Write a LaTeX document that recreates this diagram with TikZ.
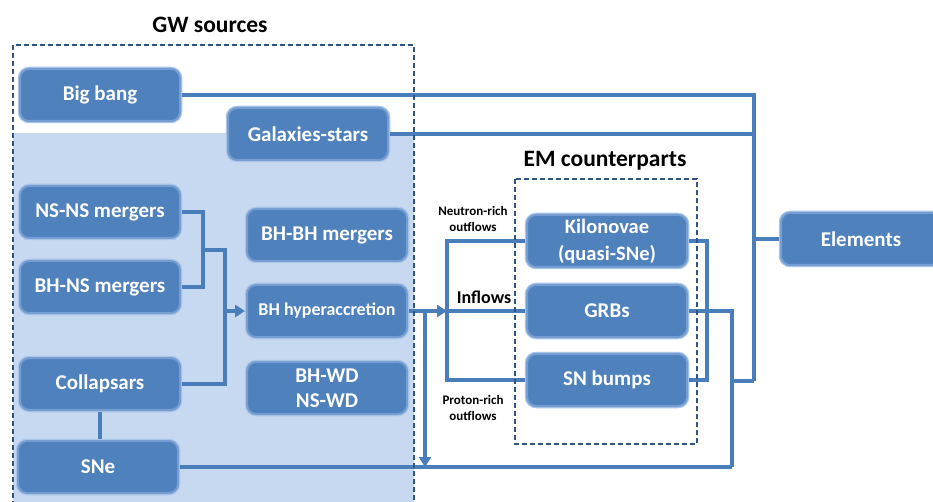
\documentclass[tikz,border=0pt]{standalone}
\usepackage{fontspec}
\setmainfont{Carlito}
\usetikzlibrary{arrows.meta,%
                positioning}

\definecolor{boxblue}{RGB}{79,129,189}
\definecolor{glowblue}{RGB}{118,158,210}
\definecolor{haloblue}{RGB}{170,198,232}
\definecolor{paleblue}{RGB}{198,217,240}
\definecolor{linkblue}{RGB}{74,126,187}
\definecolor{dashblue}{RGB}{47,84,134}

\begin{document}
\begin{tikzpicture}[x=1pt,y=-1pt,>={Triangle[length=10pt,width=12pt]}]
  \tikzset{node distance = 19pt}
  \tikzset{srcbox/.style = {rectangle, rounded corners = 9pt, fill = boxblue,
                            preaction = {draw = haloblue, line width = 4.5pt},
                            draw = glowblue, line width = 2pt, text = white,
                            font = \bfseries\fontsize{21}{27}\selectfont,
                            minimum width = 160pt, minimum height = 52pt,
                            outer sep = 2pt, align = center, inner sep = 2pt}}
  \tikzset{title/.style = {font = \bfseries\fontsize{23.5}{28}\selectfont}}
  \tikzset{flowlabel/.style = {font = \bfseries\fontsize{13}{16}\selectfont, align = center}}
  \tikzset{link/.style = {draw = linkblue, line width = 3.3pt}}
  \tikzset{groupbox/.style = {draw = dashblue, line width = 2.2pt, dash pattern = on 5pt off 3pt}}
  \useasboundingbox (0,0) rectangle (933,502);

  \fill[paleblue] (13,133) rectangle (414,520);

  % GW sources
  \node[title] (gwtitle) at (210,25) {GW sources};
  \node[srcbox] (bigbang) at (100,95) {Big bang};
  \node[srcbox] (galaxies) at (308,134) {Galaxies-stars};
  \node[srcbox] (nsns) at (100,212) {NS-NS mergers};
  \node[srcbox, below = of nsns] (bhns) {BH-NS mergers};
  \node[srcbox] (collapsars) at (100,384) {Collapsars};
  \node[srcbox] (sne) at (98,467) {SNe};
  \node[srcbox] (bhbh) at (327,235) {BH-BH mergers};
  \node[srcbox, below = 20pt of bhbh, font = \bfseries\fontsize{18}{22}\selectfont] (hyper) {BH hyperaccretion};
  \node[srcbox, below = 21pt of hyper, font = \bfseries\fontsize{21}{25}\selectfont] (bhwd) {BH-WD\\NS-WD};

  % EM counterparts
  \node[title] (emtitle) at (605,161) {EM counterparts};
  \node[srcbox, font = \bfseries\fontsize{20.5}{27}\selectfont] (kilo) at (607,241) {Kilonovae\\(quasi-SNe)};
  \node[srcbox, below = 14pt of kilo] (grbs) {GRBs};
  \node[srcbox, below = 13pt of grbs] (snbumps) {SN bumps};

  \node[srcbox] (elements) at (861,239) {Elements};

  \node[flowlabel] (neutron) at (473,219) {Neutron-rich\\outflows};
  \node[font = \bfseries\fontsize{18}{22}\selectfont] (inflows) at (484,297) {Inflows};
  \node[flowlabel] (proton) at (473,408) {Proton-rich\\outflows};

  \coordinate (lmid) at (203,250);
  \coordinate (lx) at (225,0);
  \coordinate (inx) at (447,0);
  \coordinate (dropx) at (425,0);
  \coordinate (emx) at (707,0);
  \coordinate (snebus) at (732,467);
  \coordinate (busbot) at (754,381);

  \draw[link] (nsns.east) -| (lmid |- bhns.east) -- (bhns.east);
  \draw[link] (lmid) -| (lx |- collapsars.east) -- (collapsars.east);
  \draw[link,->] (lx |- hyper.west) -- (hyper.west);
  \draw[link] (collapsars.south) -- (collapsars.south |- sne.north);

  \draw[link,->] (hyper.east) -- (inx |- hyper.east);
  \draw[link] (kilo.west) -| (inx |- snbumps.west) -- (snbumps.west);
  \draw[link] (inx |- grbs.west) -- (grbs.west);
  \draw[link,->] (dropx |- hyper.east) -- (dropx |- sne.east);

  \draw[link] (kilo.east) -| (emx |- snbumps.east) -- (snbumps.east);
  \draw[link] (grbs.east) -| (snebus);
  \draw[link] (sne.east) -- (snebus);
  \draw[link] (snebus |- busbot) -- (busbot);

  \draw[link] (bigbang.east) -| (busbot);
  \draw[link] (galaxies.east) -- (galaxies.east -| busbot);
  \draw[link] (elements.west) -- (elements.west -| busbot);

  \draw[groupbox] (13,45) rectangle (414,520);
  \draw[groupbox] (515,179) rectangle (697,444);
\end{tikzpicture}
\end{document}
